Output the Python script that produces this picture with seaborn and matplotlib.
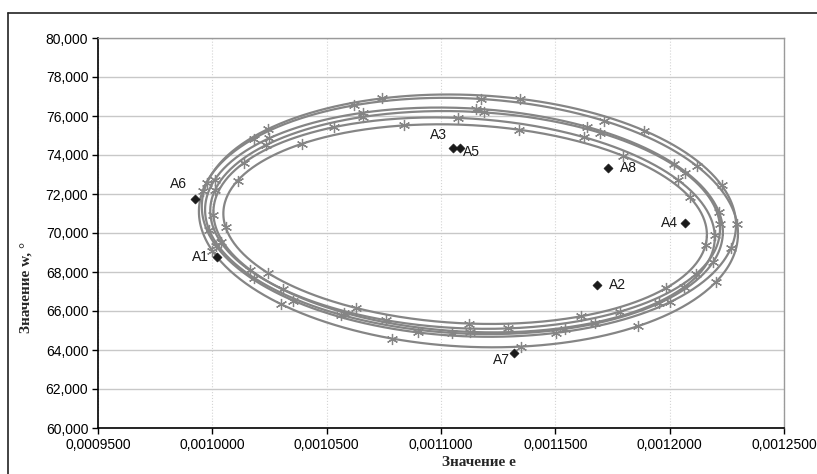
import numpy as np
import pandas as pd
import matplotlib
matplotlib.use("Agg")
import matplotlib.pyplot as plt
from matplotlib.lines import Line2D
from matplotlib.ticker import FixedLocator, FuncFormatter
import seaborn as sns

# ---- data ----
# ellipse extents (e on x, w on y), tilt in display degrees
ELL_LEFT   = [0.0009940, 0.0009953, 0.0009967, 0.0009990, 0.0010003, 0.0010047]
ELL_RIGHT  = [0.0012300, 0.0012291, 0.0012234, 0.0012221, 0.0012199, 0.0012164]
ELL_BOTTOM = [64170, 64700, 64850, 65110, 64950, 65370]
ELL_TOP    = [76900, 77080, 76400, 76230, 75880, 75540]
ELL_TILT   = [-3.0, -2.5, -3.0, -2.5, -3.5, -3.0]
ELL_NMARK  = [13, 12, 14, 13, 12, 13]
ELL_PHASE  = [0.10, 0.35, 0.20, 0.55, 0.05, 0.40]

PT_NAMES = ["A1", "A2", "A3", "A4", "A5", "A6", "A7", "A8"]
PT_E = [0.0010022, 0.0011682, 0.0011052, 0.0012065, 0.0011084, 0.0009924, 0.0011320, 0.0011730]
PT_W = [68785, 67333, 74375, 70497, 74375, 71744, 63830, 73350]

X_TICKS = [0.00095, 0.0010, 0.00105, 0.0011, 0.00115, 0.0012, 0.00125]
Y_TICKS = [60000, 62000, 64000, 66000, 68000, 70000, 72000, 74000, 76000, 78000, 80000]

# ---- style ----
sns.set_style("white")
plt.rcParams["font.family"] = ["Liberation Sans", "DejaVu Sans"]

W, H = 817, 474
fig = plt.figure(figsize=(W / 100, H / 100), dpi=100)
ax = fig.add_axes([98 / W, 1 - 428 / H, (784 - 98) / W, (428 - 38) / H])

# data units per pixel, used to tilt in display space
kx = 0.00005 / 114.3
ky = 2000 / 39.0

curve_rows = []
mark_rows = []
for i in range(len(ELL_LEFT)):
    cx = (ELL_LEFT[i] + ELL_RIGHT[i]) / 2
    cy = (ELL_BOTTOM[i] + ELL_TOP[i]) / 2
    a = (ELL_RIGHT[i] - ELL_LEFT[i]) / 2 / kx
    b = (ELL_TOP[i] - ELL_BOTTOM[i]) / 2 / ky
    th = np.deg2rad(ELL_TILT[i])

    def pts(t):
        xp = a * np.cos(t) * np.cos(th) - b * np.sin(t) * np.sin(th)
        yp = a * np.cos(t) * np.sin(th) + b * np.sin(t) * np.cos(th)
        return cx + xp * kx, cy + yp * ky

    t = np.linspace(0, 2 * np.pi, 500)
    x, y = pts(t)
    curve_rows.append(pd.DataFrame({"e": x, "w": y, "s": f"E{i}", "o": np.arange(len(t))}))
    tm = ELL_PHASE[i] + 2 * np.pi * np.arange(ELL_NMARK[i]) / ELL_NMARK[i]
    mx, my = pts(tm)
    mark_rows.append(pd.DataFrame({"e": mx, "w": my}))

curves = pd.concat(curve_rows, ignore_index=True)
marks = pd.concat(mark_rows, ignore_index=True)
pts_df = pd.DataFrame({"e": PT_E, "w": PT_W, "name": PT_NAMES})

line_col = "#858585"
for s, g in curves.groupby("s"):
    sns.lineplot(data=g, x="e", y="w", sort=False, estimator=None, ax=ax,
                 color=line_col, lw=1.6, legend=False)
ax.plot(marks["e"], marks["w"], ls="none", marker=(6, 2, 0), ms=8, mew=0.9,
        color=line_col)
sns.scatterplot(data=pts_df, x="e", y="w", marker="D", s=22, color="#1a1a1a",
                edgecolor="#1a1a1a", ax=ax, zorder=5, legend=False)

offsets = {"A1": (-6, 0, "right", "center"), "A2": (9, 0, "left", "center"),
           "A3": (-4, 4, "right", "bottom"), "A4": (-5, 0, "right", "center"),
           "A5": (2, -3, "left", "center"), "A6": (-6, 6, "right", "bottom"),
           "A7": (-3, -5, "right", "center"), "A8": (9, 0, "left", "center")}
for n, e, w in zip(PT_NAMES, PT_E, PT_W):
    dx, dy, ha, va = offsets[n]
    ax.annotate(n, (e, w), xytext=(dx, dy), textcoords="offset points",
                ha=ha, va=va, fontsize=10, color="#1a1a1a")

ax.set_xlim(X_TICKS[0], X_TICKS[-1])
ax.set_ylim(Y_TICKS[0], Y_TICKS[-1])
ax.xaxis.set_major_locator(FixedLocator(X_TICKS))
ax.yaxis.set_major_locator(FixedLocator(Y_TICKS))
ax.xaxis.set_major_formatter(FuncFormatter(lambda v, p: f"{v:.7f}".replace(".", ",")))
ax.yaxis.set_major_formatter(FuncFormatter(lambda v, p: f"{v:,.0f}"))
ax.tick_params(axis="both", direction="out", length=4, width=1, colors="black",
               labelsize=10, pad=3, left=True, bottom=True)
ax.grid(axis="y", color="#c8c8c8", lw=1, ls="-")
ax.grid(axis="x", color="#d4d4d4", lw=0.8, ls=":")
ax.set_axisbelow(True)
for side in ["left", "bottom"]:
    ax.spines[side].set_color("black")
    ax.spines[side].set_linewidth(1.2)
for side in ["top", "right"]:
    ax.spines[side].set_color("#9a9a9a")
    ax.spines[side].set_linewidth(1.0)
ax.set_xlabel("")
ax.set_ylabel("")

fig.text(479 / W, 1 - 463 / H, "Значение е", ha="center", va="center",
         fontsize=11, fontweight="bold", family=["Liberation Serif", "DejaVu Serif"])
fig.text(26 / W, 1 - 287 / H, "Значение w, °", ha="center", va="center",
         rotation=90, fontsize=11, fontweight="bold",
         family=["Liberation Serif", "DejaVu Serif"])

# chart frame (cropped on right/bottom in the reference)
fig.add_artist(Line2D([8 / W, 1.0], [1 - 13 / H, 1 - 13 / H], color="#222222", lw=1.2,
                      transform=fig.transFigure))
fig.add_artist(Line2D([8 / W, 8 / W], [0.0, 1 - 13 / H], color="#222222", lw=1.2,
                      transform=fig.transFigure))

fig.savefig("out.png", dpi=100)
